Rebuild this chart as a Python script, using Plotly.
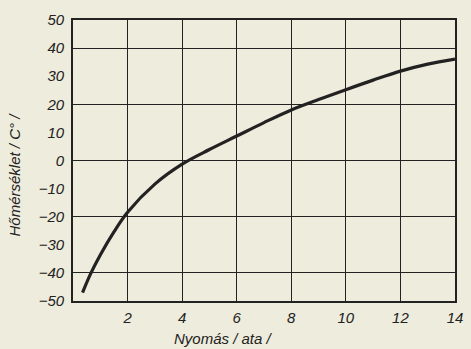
import plotly.graph_objects as go

# Pressure (ata) and temperature (°C) along the curve
pressure = [0.35, 0.66, 1.0, 1.5, 2.0, 3.0, 4.0, 5.0, 6.0, 7.0, 8.0, 9.0, 10.0, 11.0, 12.0, 13.0, 14.0]
temperature = [-47.0, -40.0, -33.6, -25.4, -18.4, -8.4, -1.3, 3.9, 8.7, 13.5, 18.0, 21.7, 25.2, 28.6, 31.8, 34.3, 36.1]

x_ticks = [2, 4, 6, 8, 10, 12, 14]
y_ticks = [-50, -40, -30, -20, -10, 0, 10, 20, 30, 40, 50]
y_grid = [-40, -20, 0, 20, 40]

ink = "#222222"
paper = "#eeecdc"
font = dict(family="Liberation Sans", size=15, color=ink, style="italic")

fig = go.Figure()
fig.add_trace(go.Scatter(
    x=pressure, y=temperature, mode="lines",
    line=dict(color=ink, width=3.2, shape="spline", smoothing=1.0),
    showlegend=False, hoverinfo="skip",
))

fig.update_layout(
    width=471, height=349,
    margin=dict(l=73, r=8, t=20, b=48),
    paper_bgcolor=paper, plot_bgcolor=paper,
    font=font,
    xaxis=dict(
        range=[0, 14], tickvals=x_ticks, ticks="", showgrid=True,
        gridcolor=ink, gridwidth=1.4, zeroline=False,
        showline=True, linecolor=ink, linewidth=1.6, mirror=True,
        tickfont=font, ticklabelstandoff=2,
    ),
    yaxis=dict(
        range=[-50, 50], tickvals=y_ticks, ticks="", showgrid=False,
        zeroline=False, showline=True, linecolor=ink, linewidth=1.6, mirror=True,
        tickfont=font, ticklabelstandoff=4,
    ),
    yaxis2=dict(
        range=[-50, 50], overlaying="y", tickvals=y_grid, showticklabels=False,
        showgrid=True, gridcolor=ink, gridwidth=1.4, zeroline=False, ticks="",
    ),
    annotations=[
        dict(text="Nyomás / ata /", xref="paper", yref="paper", x=0.395, y=-0.132,
             xanchor="center", yanchor="middle", showarrow=False, font=font),
        dict(text="Hőmérséklet / C° /", xref="paper", yref="paper", x=-0.152, y=0.45,
             xanchor="center", yanchor="middle", textangle=-90, showarrow=False, font=font),
    ],
)
# invisible trace so the grid axis is rendered
fig.add_trace(go.Scatter(x=[None], y=[None], yaxis="y2", showlegend=False, hoverinfo="skip"))

fig.write_html("out.html")
